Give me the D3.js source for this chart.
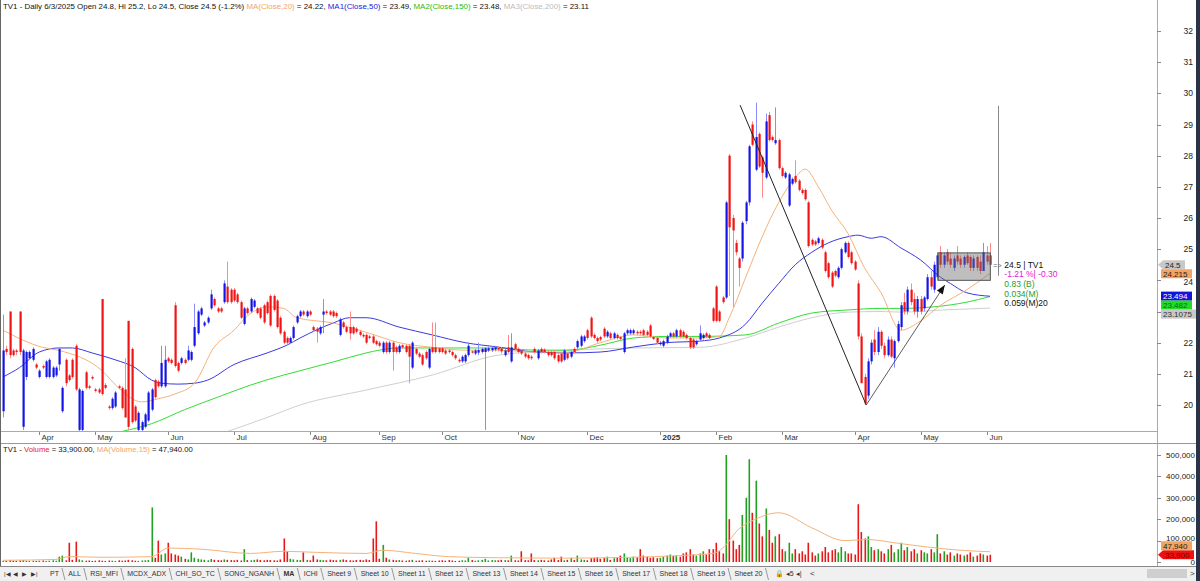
<!DOCTYPE html>
<html><head><meta charset="utf-8">
<script src="https://cdn.jsdelivr.net/npm/d3@7"></script>
<style>
html,body{margin:0;padding:0;background:#fff;}
svg{display:block;font-family:"Liberation Sans",Arial,sans-serif;}
</style></head>
<body><svg id="c" width="1200" height="581"></svg>
<script>
// ---------------- DATA ----------------
const opens = [
19.8,21.8,23.0,21.75,21.75,23.0,19.3,20.9,21.5,21.45,
21.3,20.9,21.25,20.9,20.9,20.9,20.95,21.3,19.8,21.45,
20.95,21.45,21.9,19.2,19.2,21.05,20.6,20.9,20.5,20.5,
23.4,20.64,19.95,19.9,19.95,20.6,20.55,20.5,22.7,21.8,
19.95,19.2,19.2,19.3,19.5,19.85,20.8,20.75,20.6,20.6,
21.5,21.45,23.2,21.35,21.35,21.45,21.45,21.45,21.9,22.3,
22.9,22.55,22.65,23.1,23.4,23.1,23.1,23.3,23.8,23.7,
23.7,23.55,23.3,22.6,23.1,23.0,23.15,23.1,23.1,23.2,
23.3,23.5,23.5,23.35,22.8,22.35,22.15,22.0,22.15,22.65,
22.85,23.0,22.85,23.0,22.5,22.45,22.3,22.9,23.0,23.0,
23.0,22.95,22.25,22.65,22.5,22.5,22.5,22.45,22.35,22.25,
22.25,22.2,22.2,22.05,22.0,21.7,22.0,21.7,22.0,21.85,
21.7,21.92,21.9,21.9,21.2,21.8,21.65,21.6,21.7,21.2,
21.85,21.85,21.82,21.82,21.75,21.75,21.7,21.6,21.45,21.4,
21.4,21.6,21.72,21.65,21.68,21.7,21.7,21.75,21.76,21.78,
21.83,21.82,21.6,21.85,21.4,21.95,21.8,21.75,21.65,21.6,
21.55,21.8,21.5,21.8,21.78,21.7,21.7,21.7,21.6,21.65,
21.45,21.65,21.55,21.8,21.85,21.9,22.05,22.4,22.8,22.25,
22.15,22.18,22.45,22.2,22.3,22.15,22.25,22.18,21.7,22.3,
22.3,22.3,22.35,22.35,22.4,22.35,22.55,22.18,22.15,21.95,
21.9,22.0,22.2,22.3,22.2,22.4,22.35,22.25,22.15,22.1,
21.95,22.1,22.15,22.3,22.25,23.1,23.8,23.0,23.45,23.45,
28.0,26.0,25.2,24.7,24.7,25.9,26.5,29.0,27.55,28.7,
27.95,27.3,29.3,28.6,28.4,28.5,27.6,27.3,26.4,27.1,
27.35,27.2,26.9,26.9,26.5,25.3,25.25,25.2,25.3,24.9,
24.55,24.25,24.3,24.1,24.4,24.9,25.2,24.9,24.6,23.9,
22.2,20.9,20.3,21.4,22.1,21.7,22.35,21.9,21.6,22.1,
21.5,22.05,22.5,23.3,23.0,23.7,23.4,23.0,23.4,23.1,
23.4,24.1,23.7,24.1,24.9,24.5,24.9,24.7,24.4,24.8,
24.7,24.5,24.8,24.75,24.4,24.75,24.6,24.3,24.8,24.8];
const highs = [
22.9,21.9,23.0,21.8,21.8,23.0,21.8,21.75,21.75,21.85,
21.35,21.15,21.3,21.45,21.5,21.25,21.25,21.85,20.6,21.5,
21.0,21.5,21.95,20.55,20.5,21.1,20.65,20.95,20.55,20.55,
23.4,20.7,20.0,20.25,20.45,20.65,20.6,21.5,22.7,21.85,
20.0,19.8,19.5,19.75,20.45,20.55,20.85,20.8,21.9,21.9,
21.55,21.5,23.3,21.4,21.55,21.5,21.9,21.75,23.25,23.05,
23.15,22.7,22.85,23.7,23.45,23.15,23.15,24.0,24.6,23.75,
23.75,23.6,23.35,23.15,23.15,23.45,23.4,23.15,23.15,23.25,
23.35,23.55,23.55,23.4,22.85,22.4,22.2,22.2,22.55,22.9,
23.05,23.05,23.05,23.05,22.55,22.5,22.55,23.4,23.05,23.05,
23.05,23.0,22.8,22.7,22.55,23.0,22.55,22.5,22.4,22.3,
22.3,22.25,22.25,22.1,22.05,22.05,22.05,22.05,22.05,21.9,
21.95,21.95,21.95,21.95,22.05,21.85,21.7,21.65,21.75,21.85,
22.65,22.65,21.85,21.85,21.8,21.8,21.75,21.65,21.5,21.6,
21.65,22.0,21.75,21.8,22.0,21.85,21.85,21.88,21.88,21.9,
21.88,21.86,21.8,22.25,22.3,22.0,21.85,21.8,21.7,21.65,
21.6,21.85,21.8,21.85,21.82,21.75,21.75,21.75,21.65,21.7,
21.8,21.7,21.75,21.85,22.1,22.25,22.25,22.45,22.85,22.3,
22.2,22.22,22.5,22.4,22.35,22.35,22.3,22.22,22.35,22.45,
22.45,22.45,22.4,22.4,22.45,22.4,22.6,22.22,22.2,22.05,
22.1,22.25,22.35,22.35,22.45,22.45,22.4,22.3,22.2,22.15,
22.1,22.55,22.3,22.35,22.3,23.15,23.85,23.05,23.5,26.55,
28.05,26.1,25.3,24.75,25.9,26.55,28.35,29.1,29.7,28.75,
28.0,29.35,29.4,28.65,29.55,28.55,27.65,27.5,27.45,27.3,
27.85,27.25,26.95,26.95,26.55,25.35,25.3,25.4,25.35,24.95,
24.6,24.3,24.35,24.45,25.05,25.25,25.25,24.95,24.65,24.0,
22.3,21.0,21.5,22.1,22.4,22.5,22.4,22.0,22.2,22.2,
22.1,22.7,23.3,23.6,23.8,23.9,23.6,23.5,23.5,23.5,
24.2,24.3,24.6,24.9,25.1,24.9,25.0,24.9,24.8,25.1,
24.8,24.8,24.9,24.8,24.8,24.8,24.8,25.2,25.1,25.2];
const lows = [
19.6,21.6,21.5,21.55,21.6,21.6,19.2,20.8,21.45,21.4,
21.15,20.85,21.15,20.85,20.85,20.85,20.9,21.1,19.75,20.6,
20.75,20.85,20.45,19.1,19.15,20.5,20.5,20.8,20.4,20.35,
20.3,20.5,19.85,19.85,19.9,20.5,19.85,19.6,19.2,19.4,
19.45,19.15,19.15,19.25,19.45,19.8,20.2,20.55,20.55,20.55,
21.35,21.3,21.2,21.05,21.3,21.3,21.4,21.4,21.85,22.25,
22.85,22.5,22.6,23.05,23.15,22.95,22.95,23.25,23.25,23.25,
23.3,23.25,22.75,22.55,22.9,22.95,23.1,22.9,22.75,22.6,
22.9,22.5,23.0,22.45,22.25,21.95,21.95,21.95,22.1,22.6,
22.8,22.85,22.8,22.85,22.35,22.0,22.25,22.3,22.9,22.85,
22.8,22.8,22.2,22.45,22.3,22.1,22.25,22.3,22.2,22.15,
21.95,22.1,21.95,21.9,21.85,21.65,21.65,21.65,21.1,21.65,
21.65,21.8,21.65,20.7,21.15,21.6,21.5,21.25,21.45,21.15,
21.65,21.65,21.65,21.65,21.6,21.65,21.55,21.45,21.35,21.35,
21.35,21.55,21.65,21.6,21.6,21.65,19.2,21.7,21.7,21.72,
21.72,21.65,21.55,21.65,21.35,21.75,21.65,21.6,21.5,21.45,
21.45,21.65,21.45,21.65,21.65,21.55,21.55,21.45,21.35,21.35,
21.4,21.45,21.5,21.65,21.8,21.85,22.0,22.1,22.15,22.1,
22.0,22.05,22.15,22.15,22.1,22.1,22.1,22.08,21.65,22.25,
22.25,22.25,22.25,22.25,22.2,22.2,22.15,22.08,21.95,21.9,
21.85,21.95,22.15,22.15,22.15,22.15,22.15,22.1,21.8,21.8,
21.9,22.05,22.1,22.15,22.1,22.65,22.65,22.65,23.25,23.4,
23.5,23.15,24.8,23.8,24.6,25.8,26.4,28.3,27.5,27.6,
26.65,27.25,28.45,28.45,28.35,27.55,27.3,27.25,26.35,27.05,
27.1,26.85,26.75,26.55,25.05,25.1,25.1,25.15,25.0,24.25,
24.05,23.75,24.1,24.05,24.35,24.85,24.7,24.5,24.3,22.1,
20.7,20.0,20.2,21.3,21.6,21.6,21.8,21.5,21.55,21.5,
21.2,22.0,22.4,22.9,22.9,23.2,22.9,22.8,22.9,23.0,
23.35,23.7,23.6,24.0,24.4,24.4,24.5,24.4,24.3,24.5,
24.4,24.4,24.5,24.3,24.3,24.3,24.2,24.3,24.5,24.5];
const closes = [
21.75,21.7,21.6,21.6,21.7,21.7,21.75,21.7,21.7,21.8,
21.2,21.1,21.2,21.4,21.45,21.2,21.2,21.8,20.55,20.7,
20.8,20.9,20.5,20.5,20.45,20.55,20.55,20.85,20.45,20.4,
20.35,20.55,19.9,20.2,20.4,20.55,19.9,19.6,19.3,19.45,
19.5,19.75,19.45,19.7,20.4,20.5,20.25,20.6,21.35,21.45,
21.4,21.35,21.25,21.1,21.5,21.35,21.75,21.7,22.5,23.0,
23.1,22.65,22.8,23.55,23.2,23.0,23.0,23.9,23.3,23.3,
23.35,23.3,22.8,23.1,22.95,23.4,23.35,22.95,22.8,22.65,
22.95,22.55,23.05,22.5,22.3,22.0,22.0,22.15,22.5,22.85,
23.0,22.9,23.0,22.9,22.4,22.35,22.5,23.0,22.95,22.9,
22.85,22.85,22.75,22.5,22.35,22.3,22.3,22.35,22.25,22.2,
22.0,22.15,22.0,21.95,21.9,22.0,21.7,22.0,21.7,21.7,
21.9,21.85,21.7,21.55,22.0,21.65,21.55,21.3,21.5,21.8,
21.7,21.7,21.7,21.7,21.65,21.7,21.6,21.5,21.4,21.55,
21.6,21.9,21.68,21.75,21.76,21.8,21.82,21.82,21.83,21.85,
21.78,21.72,21.75,21.7,21.85,21.8,21.7,21.65,21.55,21.5,
21.5,21.7,21.75,21.7,21.7,21.6,21.6,21.5,21.4,21.4,
21.75,21.5,21.7,21.7,22.05,22.2,22.2,22.15,22.2,22.15,
22.05,22.1,22.2,22.35,22.15,22.3,22.15,22.12,22.3,22.4,
22.4,22.4,22.3,22.3,22.25,22.25,22.2,22.12,22.0,22.0,
22.05,22.2,22.3,22.2,22.4,22.2,22.2,22.15,21.85,21.85,
22.05,22.3,22.25,22.2,22.15,22.7,22.7,22.7,23.3,26.5,
25.7,25.6,24.9,24.4,25.85,26.5,28.3,28.35,28.6,27.65,
27.45,29.1,28.5,28.5,28.5,27.6,27.35,27.45,27.4,27.25,
27.15,26.9,26.8,26.6,25.1,25.15,25.15,25.35,25.05,24.3,
24.1,23.8,24.15,24.4,25.0,25.2,24.75,24.55,24.35,22.2,
20.7,20.05,21.4,22.0,21.7,22.35,21.9,21.6,22.1,21.55,
22.05,22.6,23.2,23.0,23.7,23.3,23.0,23.4,23.0,23.45,
24.1,23.8,24.5,24.8,24.5,24.8,24.6,24.5,24.7,24.6,
24.5,24.75,24.55,24.4,24.7,24.4,24.3,24.9,24.6,24.5];
// volume in thousands of shares
const volumes = [
6,5,8,6,5,7,9,6,5,6,
5,6,7,5,6,8,6,25,30,8,
90,10,95,12,8,6,7,5,6,8,
6,5,7,6,5,8,6,7,10,8,
6,5,7,8,9,255,20,100,35,40,
90,40,35,30,25,15,12,45,20,15,
12,10,8,14,10,9,8,12,10,9,
8,10,7,60,9,8,10,12,9,8,
10,9,8,7,12,110,50,15,12,10,
9,45,10,8,30,12,10,9,8,11,
9,8,10,12,9,8,7,9,10,8,
12,9,110,190,15,80,20,12,10,8,
9,7,6,8,10,6,7,8,6,7,
6,5,7,8,6,9,7,5,6,8,
7,20,9,6,8,10,15,7,9,8,
8,10,9,8,30,8,7,50,9,8,
40,9,8,10,8,7,12,20,9,25,
8,10,20,9,30,12,10,8,18,20,
22,15,20,25,10,18,22,30,40,20,
18,25,22,60,30,25,20,22,18,20,
25,30,35,28,30,25,40,45,60,35,
30,40,50,35,60,60,90,50,40,510,
200,100,60,80,220,300,480,230,380,180,
120,250,150,90,120,130,60,50,90,40,
60,40,50,35,90,45,30,40,50,70,
45,55,60,45,70,50,40,40,35,270,
140,110,120,70,55,60,50,40,60,80,
45,60,90,55,70,50,60,40,55,45,
40,60,45,130,40,50,35,45,30,40,
35,30,35,45,25,30,40,35,30,34];
// moving averages sampled along the bar index
const ma20Idx = [0,12,17,30,35,42,47,52,58,64,70,74,80,85,89,100,111,120,130,140,150,161,171,181,191,201,211,217,220,225,230,235,240,243,247,251,256,261,266,272,278,284,292,299];
const ma20Val = [22.4,21.85,21.75,21.1,20.55,20.1,20.2,20.35,20.7,21.86,22.4,22.85,23.15,23.1,22.8,22.63,22.3,22.0,21.85,21.76,21.76,21.7,21.7,22.0,22.25,22.15,22.15,22.2,22.8,24.1,25.4,26.5,27.3,27.57,27.0,26.25,25.5,24.4,23.6,22.4,22.7,23.2,23.7,24.22];
const ma50Idx = [0,5,11,17,21,27,34,40,45,48,53,58,62,70,80,86,90,100,105,110,120,130,140,150,161,171,181,191,201,211,217,225,230,235,240,245,250,256,259,263,266,272,278,284,287,292,299];
const ma50Val = [20.9,21.2,21.7,21.83,21.83,21.67,21.45,21.2,20.8,20.7,20.67,20.7,20.8,21.3,21.67,21.92,22.15,22.63,22.8,22.8,22.5,22.25,22.0,21.86,21.7,21.67,21.7,21.86,22.0,22.05,22.15,22.6,23.27,23.9,24.5,24.9,25.2,25.4,25.45,25.35,25.4,25.04,24.65,24.1,23.9,23.6,23.49];
const ma150Idx = [36,45,55,65,75,85,90,100,110,114,120,130,140,150,161,171,181,191,201,211,225,235,245,256,266,272,282,292,299];
const ma150Val = [19.15,19.4,19.85,20.25,20.64,20.96,21.1,21.38,21.67,21.76,21.83,21.83,21.83,21.83,21.76,21.76,21.92,22.15,22.2,22.2,22.25,22.63,22.95,23.05,23.1,23.1,23.15,23.3,23.48];
const ma200Idx = [68,80,90,110,130,150,171,191,211,225,235,245,256,266,272,285,299];
const ma200Val = [19.15,19.6,20.0,20.48,20.96,21.6,21.76,21.83,21.85,22.15,22.5,22.8,22.98,23.0,22.98,23.05,23.11];
const volMaIdx = [0,16,20,30,45,50,60,75,85,95,110,115,125,135,150,170,190,205,215,219,222,228,235,245,255,262,270,280,290,299];
const volMaVal = [8,12,25,22,25,65,60,40,50,45,40,55,40,25,20,18,22,30,40,80,140,200,230,160,100,105,90,70,55,47.94];

const monthLabels = ["Apr","May","Jun","Jul","Aug","Sep","Oct","Nov","Dec","2025","Feb","Mar","Apr","May","Jun"];
const monthIdx = [11,28,50,70,93,114,133,156,177,199,216,236,258,278,298];
const priceTicks = [20,21,22,23,24,25,26,27,28,29,30,31,32];
const volTicks = [0,100000,200000,300000,400000,500000];
const tabNames = ["PT","ALL","RSI_MFI","MCDX_ADX","CHI_SO_TC","SONG_NGANH","MA","ICHI","Sheet 9","Sheet 10","Sheet 11","Sheet 12","Sheet 13","Sheet 14","Sheet 15","Sheet 16","Sheet 17","Sheet 18","Sheet 19","Sheet 20"];
// drawn annotations (bar index, price)
const trend1 = [[223.3,29.62],[261.5,20.0]];
const trend2 = [[261.5,20.0],[285.3,23.85]];
const boxIdx = [283.3,299.1], boxPrice = [24.0,24.88];
const markerLine = [[301.5,29.6],[301.5,24.15]];
const lastInfo = ["24.5 | TV1","-1.21 %| -0.30","0.83 (B)","0.034(M)","0.059(M)20"];
const priceTags = [
 {v:24.5, txt:"24.5", fill:"#c8c8c8", col:"#222", arrow:true},
 {v:24.215, txt:"24.215", fill:"#f4a460", col:"#222"},
 {v:23.494, txt:"23.494", fill:"#1414d8", col:"#fff"},
 {v:23.482, txt:"23.482", fill:"#22dd22", col:"#063"},
 {v:23.1075, txt:"23.1075", fill:"#c8c8c8", col:"#333"}];
const volTags = [
 {v:33900, txt:"33,900", fill:"#ee1111", col:"#700", arrow:true},
 {v:47940, txt:"47,940", fill:"#f4a460", col:"#222"}];

// ---------------- DRAW ----------------
const svg = d3.select("#c");
const N = opens.length;
const x = d3.scaleLinear().domain([0, N-1]).range([3, 990]);
const y = d3.scaleLinear().domain([20, 32]).range([405, 31]);
const yv = d3.scaleLinear().domain([0, 500000]).range([562, 455]);
const AX = 1157;

svg.append("rect").attr("width",1200).attr("height",581).attr("fill","#fff");
const defs = svg.append("defs");
defs.append("clipPath").attr("id","pc").append("rect").attr("x",0).attr("y",10).attr("width",AX).attr("height",421);
defs.append("clipPath").attr("id","vc").append("rect").attr("x",0).attr("y",455).attr("width",AX).attr("height",110);

// header
const hdr = svg.append("text").attr("x",3).attr("y",9).attr("font-size",7.9).attr("fill","#111");
[["TV1 - Daily 6/3/2025 Open 24.8, Hi 25.2, Lo 24.5, Close 24.5 (-1.2%) ","#111"],
 ["MA(Close,20)","#f4a460"],[" = 24.22, ","#111"],["MA1(Close,50)","#2222dd"],[" = 23.49, ","#111"],
 ["MA2(Close,150)","#22bb22"],[" = 23.48, ","#111"],["MA3(Close,200)","#bbbbbb"],[" = 23.11","#111"]]
 .forEach(([t,c])=>hdr.append("tspan").attr("fill",c).text(t));

// price pane
const pg = svg.append("g").attr("clip-path","url(#pc)");
const line = d3.line().curve(d3.curveMonotoneX);
function maPath(idx, val, col){
  pg.append("path").attr("d", line(idx.map((d,k)=>[x(d), y(val[k])]))).attr("fill","none").attr("stroke",col).attr("stroke-width",1);
}
maPath(ma200Idx, ma200Val, "#cfcfcf");
maPath(ma150Idx, ma150Val, "#33dd33");
maPath(ma50Idx, ma50Val, "#3a3ae0");
maPath(ma20Idx, ma20Val, "#f6b27a");

const idx = d3.range(N);
pg.selectAll("line.wick").data(idx).join("line")
  .attr("x1",i=>Math.round(x(i))+0.5).attr("x2",i=>Math.round(x(i))+0.5)
  .attr("y1",i=>y(highs[i])).attr("y2",i=>y(lows[i]))
  .attr("stroke",i=>closes[i]>=opens[i]?"#8a8aff":"#ff8a8a").attr("stroke-width",1);
pg.selectAll("rect.body").data(idx).join("rect")
  .attr("x",i=>Math.round(x(i))-0.5).attr("width",2.2)
  .attr("y",i=>y(Math.max(opens[i],closes[i])))
  .attr("height",i=>Math.max(1.2, Math.abs(y(opens[i])-y(closes[i]))))
  .attr("fill",i=>closes[i]>=opens[i]?"#1414e6":"#f01414");

// annotations
const tl = d3.line();
pg.append("path").attr("d",tl(trend1.map(p=>[x(p[0]),y(p[1])]))).attr("stroke","#222").attr("stroke-width",1).attr("fill","none");
pg.append("path").attr("d",tl(trend2.map(p=>[x(p[0]),y(p[1])]))).attr("stroke","#333").attr("stroke-width",0.8).attr("fill","none");
{ const p1=[x(trend2[0][0]),y(trend2[0][1])], p2=[x(trend2[1][0]),y(trend2[1][1])];
  const a=Math.atan2(p2[1]-p1[1],p2[0]-p1[0]);
  const L=9, W=3.5;
  const pts=[p2,[p2[0]-L*Math.cos(a)+W*Math.sin(a),p2[1]-L*Math.sin(a)-W*Math.cos(a)],[p2[0]-L*Math.cos(a)-W*Math.sin(a),p2[1]-L*Math.sin(a)+W*Math.cos(a)]];
  pg.append("polygon").attr("points",pts.map(p=>p.join(",")).join(" ")).attr("fill","#111"); }
pg.append("rect").attr("x",x(boxIdx[0])).attr("y",y(boxPrice[1])).attr("width",x(boxIdx[1])-x(boxIdx[0])).attr("height",y(boxPrice[0])-y(boxPrice[1]))
  .attr("fill","rgba(110,110,110,0.45)").attr("stroke","#555").attr("stroke-width",1);
pg.append("line").attr("x1",Math.round(x(markerLine[0][0]))+0.5).attr("x2",Math.round(x(markerLine[0][0]))+0.5)
  .attr("y1",y(markerLine[0][1])).attr("y2",y(markerLine[1][1])).attr("stroke","#888").attr("stroke-width",1);

const infoX = x(boxIdx[1]) + 14;
svg.append("text").attr("x",x(boxIdx[1])+3).attr("y",y(24.5)+3).attr("font-size",7).attr("fill","#666").text("=>");
const infoCols = ["#111","#e020d0","#2a9a2a","#2a9a2a","#111"];
lastInfo.forEach((t,k)=>svg.append("text").attr("x",infoX).attr("y",y(24.5)+3+k*9.6).attr("font-size",8.5).attr("fill",infoCols[k]).text(t));

// axes frame
svg.append("line").attr("x1",AX+0.5).attr("x2",AX+0.5).attr("y1",0).attr("y2",566).attr("stroke","#aaa");
svg.append("line").attr("x1",0).attr("x2",AX).attr("y1",431.5).attr("y2",431.5).attr("stroke","#aaa");
svg.append("line").attr("x1",0).attr("x2",1196).attr("y1",443.5).attr("y2",443.5).attr("stroke","#999");
svg.append("line").attr("x1",0.5).attr("x2",0.5).attr("y1",0).attr("y2",566).attr("stroke","#666");

// value tags on the right axis (stacked so they do not overlap)
function drawTags(tags, scale, dir){
  let prev = null;
  tags.forEach(t=>{
    let yy = scale(t.v);
    if(prev!==null){ yy = dir>0 ? Math.max(yy, prev+9) : Math.min(yy, prev-9); }
    prev = yy;
    const w = t.txt.length*4.5+4;
    if(t.arrow){
      svg.append("polygon").attr("points",`${AX+1},${yy} ${AX+6},${yy-4.5} ${AX+6+w},${yy-4.5} ${AX+6+w},${yy+4.5} ${AX+6},${yy+4.5}`).attr("fill",t.fill);
      svg.append("text").attr("x",AX+8).attr("y",yy+3).attr("font-size",8).attr("fill",t.col).text(t.txt);
    } else {
      svg.append("rect").attr("x",AX+4).attr("y",yy-4.5).attr("width",w).attr("height",9).attr("fill",t.fill);
      svg.append("text").attr("x",AX+6).attr("y",yy+3).attr("font-size",8).attr("fill",t.col).text(t.txt);
    }
  });
}
// price axis (the label hidden under the value tags is not drawn)
priceTicks.forEach(v=>{
  svg.append("line").attr("x1",AX).attr("x2",AX+4).attr("y1",Math.round(y(v))+0.5).attr("y2",Math.round(y(v))+0.5).attr("stroke","#888");
  if(v!==23) svg.append("text").attr("x",1193).attr("y",y(v)+(v===24?5:3)).attr("text-anchor","end").attr("font-size",8.5).attr("fill","#222").text(v);
});
drawTags(priceTags, y, 1);

// x axis
monthIdx.forEach((m,k)=>{
  const xx=Math.round(x(m))+0.5;
  svg.append("line").attr("x1",xx).attr("x2",xx).attr("y1",432).attr("y2",435).attr("stroke","#888");
  svg.append("text").attr("x",xx+2).attr("y",440).attr("font-size",8).attr("fill","#333")
    .attr("font-weight",monthLabels[k]==="2025"?"bold":"normal").text(monthLabels[k]);
});

// volume pane
const vh = svg.append("text").attr("x",3).attr("y",452).attr("font-size",7.7).attr("fill","#111");
[["TV1 - ","#111"],["Volume","#ee2222"],[" = 33,900.00, ","#111"],["MA(Volume,15)","#f4a460"],[" = 47,940.00","#111"]]
 .forEach(([t,c])=>vh.append("tspan").attr("fill",c).text(t));
const vg = svg.append("g").attr("clip-path","url(#vc)");
vg.selectAll("rect").data(idx).join("rect")
  .attr("x",i=>Math.round(x(i))-0.5).attr("width",1.6)
  .attr("y",i=>yv(volumes[i]*1000)).attr("height",i=>yv(0)-yv(volumes[i]*1000))
  .attr("fill",i=>closes[i]>=opens[i]?"#22a022":"#e81818");
vg.append("path").attr("d",line(volMaIdx.map((d,k)=>[x(d),yv(volMaVal[k]*1000)]))).attr("fill","none").attr("stroke","#f6b27a").attr("stroke-width",1);
volTicks.forEach(v=>{
  svg.append("line").attr("x1",AX).attr("x2",AX+4).attr("y1",Math.round(yv(v))+0.5).attr("y2",Math.round(yv(v))+0.5).attr("stroke","#888");
  svg.append("text").attr("x",1195).attr("y",yv(v)+(v===100000?0:3)).attr("text-anchor","end").attr("font-size",8).attr("fill","#222").text(d3.format(",")(v));
});
drawTags(volTags, yv, -1);

// tab bar
svg.append("rect").attr("x",0).attr("y",566).attr("width",1200).attr("height",15).attr("fill","#f0f0f0");
svg.append("line").attr("x1",0).attr("x2",1200).attr("y1",566.5).attr("y2",566.5).attr("stroke","#888");
["|◀","◀","▶","▶|"].forEach((t,k)=>svg.append("text").attr("x",4+k*9).attr("y",576).attr("font-size",6).attr("fill","#333").text(t));
let tx = 50;
tabNames.forEach(t=>{
  const active = t==="MA";
  const tt = svg.append("text").attr("x",tx).attr("y",576).attr("font-size",7).attr("fill","#333").attr("font-weight",active?"bold":"normal").text(t);
  const w = tt.node().getComputedTextLength();
  svg.append("line").attr("x1",tx+w+3).attr("x2",tx+w+6).attr("y1",568).attr("y2",580).attr("stroke","#999");
  tx += w+9.4;
});
svg.append("text").attr("x",tx+3).attr("y",576).attr("font-size",7).attr("fill","#333").text("🔒 ◂5 ◂|");
svg.append("text").attr("x",tx+38).attr("y",576).attr("font-size",8).attr("fill","#333").text("<");
svg.append("rect").attr("x",1147).attr("y",569).attr("width",40).attr("height",9).attr("fill","#cfcfcf");
svg.append("text").attr("x",1190).attr("y",576).attr("font-size",8).attr("fill","#333").text(">");
svg.append("rect").attr("x",1196).attr("y",0).attr("width",4).attr("height",581).attr("fill","#2b3447");
</script></body></html>
